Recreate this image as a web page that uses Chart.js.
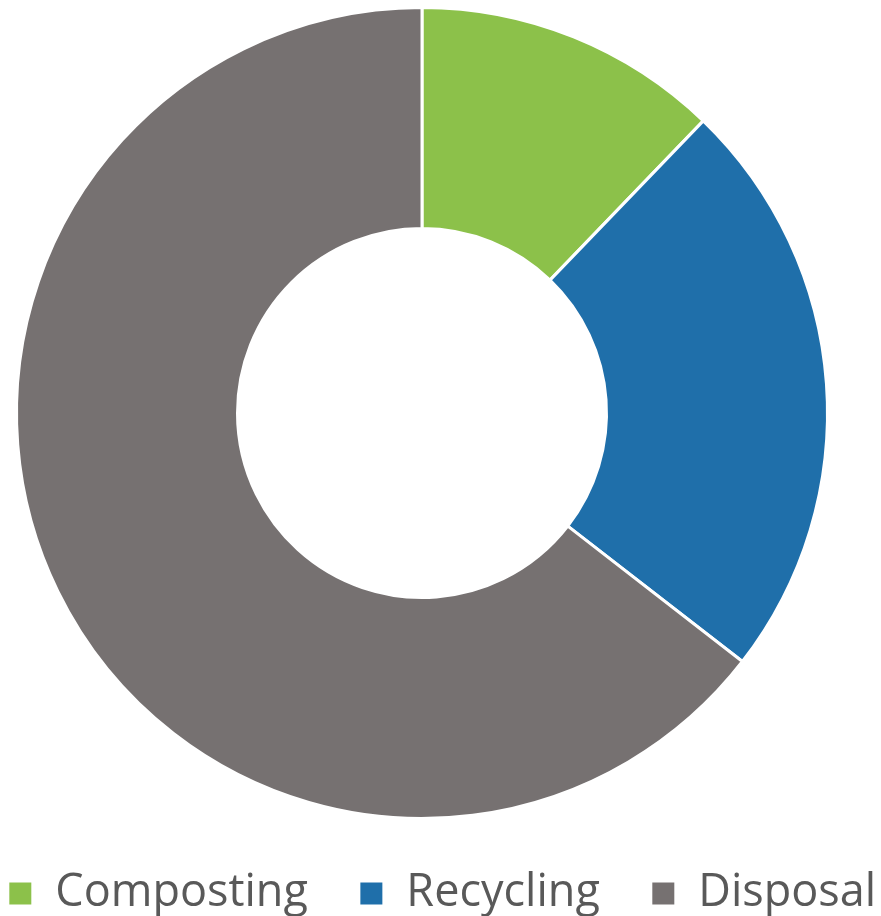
<!DOCTYPE html>
<html>
<head>
<meta charset="utf-8">
<title>Waste diversion</title>
<script src="https://cdn.jsdelivr.net/npm/chart.js@4.4.1/dist/chart.umd.min.js"></script>
<style>
    html, body { margin: 0; padding: 0; background: #fff; }
    #wrap { width: 881px; height: 916px; position: relative; }
</style>
</head>
<body>
<div id="wrap"><canvas id="wasteChart"></canvas></div>
<script>
// Share of waste by destination (percent)
const categories = ['Composting', 'Recycling', 'Disposal'];
const shares = [12.2, 23.3, 64.5];
const sliceColors = ['#8CC14A', '#1F6FAA', '#767171'];

// The ring sits left of centre (right padding) while the legend is wide and
// centred on the page. Negative left padding gives the legend room for one row,
// then the legend box is slid back so it lines up with the page.
const LEGEND_SHIFT = 90;
const legendShift = {
    id: 'legendShift',
    afterLayout(chart) {
        if (!chart.legend) return;
        chart.legend.left += LEGEND_SHIFT;
        chart.legend.right += LEGEND_SHIFT;
    }
};

const ctx = document.getElementById('wasteChart').getContext('2d');

new Chart(ctx, {
    type: 'doughnut',
    data: {
        labels: categories,
        datasets: [{
            data: shares,
            backgroundColor: sliceColors,
            borderColor: '#fff',
            borderWidth: 3
        }]
    },
    options: {
        responsive: true,
        maintainAspectRatio: false,
        animation: false,
        cutout: '45.5%',
        layout: {
            autoPadding: false,
            padding: { top: 6, bottom: -10, left: -140, right: 37 }
        },
        plugins: {
            tooltip: { enabled: false },
            legend: {
                position: 'bottom',
                labels: {
                    boxWidth: 25,
                    boxHeight: 25,
                    padding: 51,
                    color: '#595959',
                    font: { family: 'Open Sans', size: 45 }
                }
            }
        }
    },
    plugins: [legendShift]
});
</script>
</body>
</html>
